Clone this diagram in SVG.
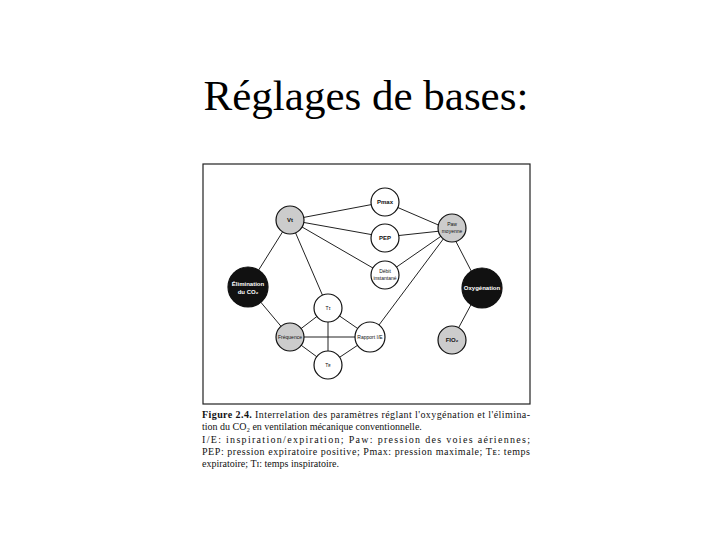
<svg xmlns="http://www.w3.org/2000/svg" width="720" height="540" viewBox="0 0 720 540">
<style>
.c{stroke:#111;stroke-width:1.2;fill:#fff}
.g{fill:#ccc}
.b{fill:#111}
.l line{stroke:#222;stroke-width:1}
.t{font-family:"Liberation Sans",Arial,sans-serif;font-size:6px;text-anchor:middle;font-weight:bold;fill:#111}
.s{font-size:5px;font-weight:normal}
.w{fill:#fff}
.cap{font-family:"Liberation Serif",serif;font-size:10px;fill:#111}
</style>
<rect width="720" height="540" fill="#fff"/>
<text x="366" y="110" font-family="Liberation Serif,serif" font-size="43" text-anchor="middle">Réglages de bases:</text>
<rect x="203" y="164" width="327" height="240" fill="none" stroke="#222" stroke-width="1.2"/>
<g class="l">
<line x1="290" y1="220" x2="385" y2="202"/><line x1="290" y1="220" x2="385" y2="237"/><line x1="290" y1="220" x2="385" y2="275"/>
<line x1="290" y1="220" x2="328" y2="308"/><line x1="290" y1="220" x2="248" y2="287"/>
<line x1="385" y1="202" x2="450" y2="230"/><line x1="385" y1="237" x2="450" y2="230"/><line x1="385" y1="275" x2="450" y2="230"/>
<line x1="450" y1="230" x2="370" y2="337"/><line x1="450" y1="230" x2="480" y2="288"/>
<line x1="480" y1="288" x2="452" y2="340"/><line x1="248" y1="287" x2="290" y2="337"/>
<line x1="290" y1="337" x2="370" y2="337"/><line x1="328" y1="308" x2="328" y2="365"/>
<line x1="290" y1="337" x2="328" y2="308"/><line x1="290" y1="337" x2="328" y2="365"/>
<line x1="370" y1="337" x2="328" y2="308"/><line x1="370" y1="337" x2="328" y2="365"/>
</g>
<g id="vt"><circle class="c g" cx="290" cy="220" r="14"/><text class="t" x="290" y="222">Vt</text></g>
<g id="pmax"><circle class="c" cx="385" cy="202" r="14"/><text class="t" x="385" y="204">Pmax</text></g>
<g id="pep"><circle class="c" cx="385" cy="238" r="14"/><text class="t" x="385" y="240">PEP</text></g>
<g id="debit"><circle class="c" cx="385" cy="275" r="14"/><text class="t s" x="385" y="273">Débit</text><text class="t s" x="385" y="280">instantané</text></g>
<g id="paw"><circle class="c g" cx="452" cy="228" r="14"/><text class="t s" x="452" y="226">Paw</text><text class="t s" x="452" y="233">moyenne</text></g>
<g id="elim"><circle class="c b" cx="248" cy="287" r="20"/><text class="t w" x="248" y="286">Élimination</text><text class="t w" x="248" y="294">du CO₂</text></g>
<g id="oxy"><circle class="c b" cx="482" cy="288" r="20"/><text class="t w" x="482" y="290">Oxygénation</text></g>
<g id="ti"><circle class="c" cx="328" cy="308" r="14"/><text class="t s" x="328" y="310">Tɪ</text></g>
<g id="freq"><circle class="c g" cx="290" cy="337" r="14"/><text class="t s" x="290" y="339">Fréquence</text></g>
<g id="rapport"><circle class="c" cx="370" cy="337" r="15"/><text class="t s" x="370" y="339">Rapport I/E</text></g>
<g id="te"><circle class="c" cx="328" cy="365" r="14"/><text class="t s" x="328" y="367">Tᴇ</text></g>
<g id="fio2"><circle class="c g" cx="452" cy="340" r="14"/><text class="t" x="452" y="342">FIO₂</text></g>
<text class="cap" x="202" y="418" textLength="328"><tspan font-weight="bold">Figure 2.4.</tspan> Interrelation des paramètres réglant l'oxygénation et l'élimina-</text>
<text class="cap" x="202" y="430">tion du CO₂ en ventilation mécanique conventionnelle.</text>
<text class="cap" x="202" y="443" textLength="328">I/E: inspiration/expiration; Paw: pression des voies aériennes;</text>
<text class="cap" x="202" y="455" textLength="328">PEP: pression expiratoire positive; Pmax: pression maximale; Tᴇ: temps</text>
<text class="cap" x="202" y="467">expiratoire; Tɪ: temps inspiratoire.</text>
</svg>
